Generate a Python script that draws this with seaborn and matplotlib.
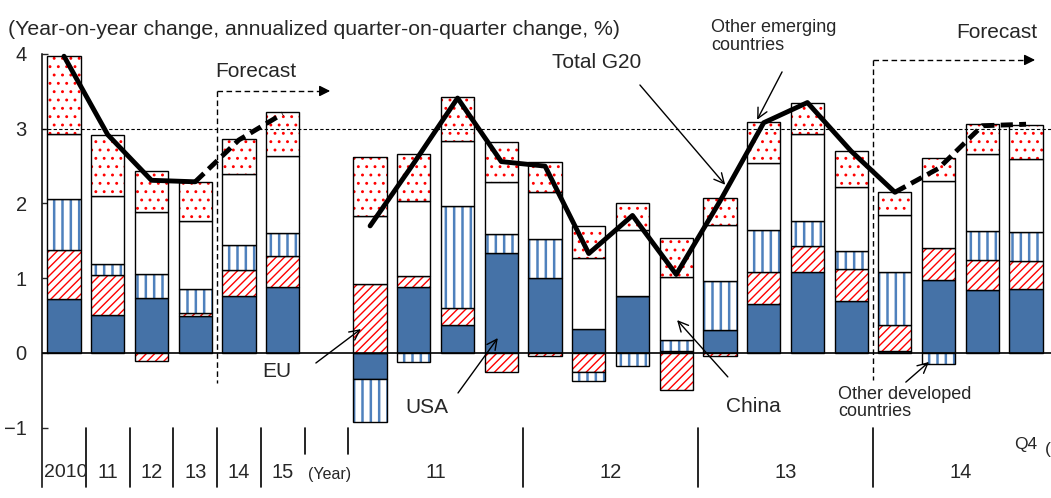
import numpy as np
import pandas as pd
import matplotlib
matplotlib.use("Agg")
import matplotlib.pyplot as plt
import seaborn as sns

# contributions to G20 growth, % points
# first 6 = calendar years 2010-2015, then quarters 2011Q1 .. 2014Q4
years = ["2010", "11", "12", "13", "14", "15"]
quarter_years = ["11", "12", "13", "14"]

usa = [0.72, 0.51, 0.74, 0.49, 0.76, 0.88,
       -0.35, 0.88, 0.38, 1.34,
       1.00, 0.32, 0.76, 0.03,
       0.31, 0.65, 1.08, 0.69,
       0.03, 0.98, 0.84, 0.85]
eu = [0.66, 0.53, -0.11, 0.04, 0.35, 0.42,
      0.92, 0.15, 0.22, -0.25,
      -0.04, -0.26, 0.00, -0.50,
      -0.04, 0.44, 0.35, 0.44,
      0.35, 0.42, 0.41, 0.38]
other_dev = [0.68, 0.15, 0.31, 0.32, 0.33, 0.30,
             -0.57, -0.12, 1.37, 0.25,
             0.53, -0.12, -0.18, 0.15,
             0.65, 0.55, 0.33, 0.24,
             0.70, -0.15, 0.38, 0.39]
china = [0.87, 0.91, 0.83, 0.92, 0.95, 1.03,
         0.91, 1.00, 0.87, 0.70,
         0.63, 0.95, 0.88, 0.84,
         0.75, 0.90, 1.17, 0.85,
         0.77, 0.90, 1.03, 0.98]
other_em = [1.04, 0.82, 0.55, 0.52, 0.47, 0.59,
            0.79, 0.63, 0.58, 0.53,
            0.39, 0.43, 0.37, 0.52,
            0.36, 0.55, 0.41, 0.48,
            0.31, 0.31, 0.40, 0.45]
total_g20 = [3.97, 2.92, 2.31, 2.29, 2.85, 3.20,
             1.70, 2.54, 3.41, 2.56,
             2.50, 1.33, 1.84, 1.05,
             2.03, 3.08, 3.35, 2.70,
             2.15, 2.47, 3.04, 3.06]

# bar slots: annual 0-5, gap, quarterly 7-22
pos = list(range(6)) + list(range(7, 23))
df = pd.DataFrame({"pos": pos, "USA": usa, "EU": eu, "ODev": other_dev,
                   "China": china, "OEm": other_em, "G20": total_g20})

sns.set_style("white")
plt.rcParams["font.family"] = ["Liberation Sans", "DejaVu Sans"]
plt.rcParams["hatch.linewidth"] = 1.0
narrow = ["Liberation Sans Narrow", "Liberation Sans", "DejaVu Sans"]

fig = plt.figure(figsize=(10.51, 4.98), dpi=100)
ax = fig.add_axes([42 / 1051, 0, 1 - 42 / 1051, 1])

RED = "#ff0000"
# name, face, hatch, hatch colour, hatch width
styles = [
    ("USA", "#4572a7", None, None, 1.0),
    ("EU", "white", "////", RED, 1.0),
    ("ODev", "white", "||", "#4f81bd", 1.8),
    ("China", "white", None, None, 1.0),
    ("OEm", "white", "..", RED, 0.9),
]

up = np.zeros(len(df))
down = np.zeros(len(df))
for name, fc, hatch, hc, hlw in styles:
    v = df[name].to_numpy()
    bottom = np.where(v >= 0, up, down)
    if hatch:
        with plt.rc_context({"hatch.linewidth": hlw}):
            sns.barplot(data=df, x="pos", y=name, native_scale=True, width=0.76,
                        bottom=bottom, color=fc, saturation=1, hatch=hatch,
                        edgecolor=hc, linewidth=0, errorbar=None, ax=ax, zorder=2)
    sns.barplot(data=df, x="pos", y=name, native_scale=True, width=0.76,
                bottom=bottom, color=fc, saturation=1,
                facecolor="none" if hatch else fc, edgecolor="black",
                linewidth=1.0, errorbar=None, ax=ax, zorder=2)
    up += np.where(v > 0, v, 0)
    down += np.where(v < 0, v, 0)

# Total G20 line, solid for actuals, dashed for forecast
annual = df.iloc[:6]
quarterly = df.iloc[6:]
segments = [(annual.iloc[:4], "-"), (annual.iloc[3:], (0, (2.5, 1.3))),
            (quarterly.iloc[:13], "-"), (quarterly.iloc[12:], (0, (2.5, 1.3)))]
for seg, ls in segments:
    sns.lineplot(data=seg, x="pos", y="G20", color="black", linewidth=3.5,
                 linestyle=ls, ax=ax, zorder=5, sort=False)

ax.axhline(0, color="black", lw=1.2, zorder=4)
ax.axhline(3, color="black", lw=0.8, ls=(0, (3, 2)), zorder=3)

ax.set_xlim(-0.503, 22.57)
ax.set_ylim(-1.94, 4.722)
ax.set_xlabel("")
ax.set_ylabel("")
ax.set_xticks([])
ax.set_yticks(range(-1, 5))
ax.set_yticklabels(["\u22121", "0", "1", "2", "3", "4"], family=narrow, fontsize=14.5)
ax.tick_params(axis="y", direction="in", length=4, width=1, pad=11, left=True)
for s in ["top", "right", "bottom"]:
    ax.spines[s].set_visible(False)
ax.spines["left"].set_bounds(-1.79, 4.0)
ax.spines["left"].set_linewidth(1.1)
ax.spines["left"].set_color("black")

# category separators and labels below the plot
sep_kw = dict(color="black", lw=1.2, clip_on=False)
for xs in [0.5, 1.5, 2.5, 3.5, 4.5, 10.5, 14.5, 18.5]:
    ax.plot([xs, xs], [-1.0, -1.79], **sep_kw)
for xs in [5.5, 6.5]:
    ax.plot([xs, xs], [-1.0, -1.35], **sep_kw)
for i, lab in enumerate(years):
    ax.text(i + (0.03 if i == 0 else 0), -1.6, lab, ha="center", va="center",
            family=narrow, fontsize=14 if i == 0 else 14.5)
ax.text(6.08, -1.63, "(Year)", ha="center", va="center", family=narrow, fontsize=11.5)
for c, lab in zip([8.5, 12.5, 16.5, 20.5], quarter_years):
    ax.text(c, -1.6, lab, ha="center", va="center", family=narrow, fontsize=14.5)
ax.text(21.98, -1.23, "Q4", ha="center", va="center", family=narrow, fontsize=12.5)
ax.text(22.5, -1.29, "(", ha="center", va="center", family=narrow, fontsize=12.5)

fig.text(8 / 1051, 1 - 29 / 498, "(Year-on-year change, annualized quarter-on-quarter change, %)",
         ha="left", va="center", fontsize=15.3)

# forecast markers
fc_kw = dict(color="black", lw=1.0, ls=(0, (4, 2.5)), clip_on=False)
ax.plot([3.5, 3.5], [3.505, -0.40], **fc_kw)
ax.plot([3.5, 6.0], [3.505, 3.505], **fc_kw)
ax.annotate("", xy=(6.15, 3.505), xytext=(5.9, 3.505),
            arrowprops=dict(arrowstyle="-|>", color="black", lw=1, mutation_scale=16))
ax.text(4.39, 3.76, "Forecast", ha="center", va="center", fontsize=15)
ax.plot([18.5, 18.5], [3.92, -0.36], **fc_kw)
ax.plot([18.5, 22.1], [3.92, 3.92], **fc_kw)
ax.annotate("", xy=(22.27, 3.92), xytext=(22.0, 3.92), annotation_clip=False,
            arrowprops=dict(arrowstyle="-|>", color="black", lw=1, mutation_scale=16))
ax.text(21.34, 4.29, "Forecast", ha="center", va="center", fontsize=15)

# series labels
arr = dict(arrowstyle="->", color="black", lw=1.0, mutation_scale=18, shrinkA=0, shrinkB=0)
ax.annotate("", xy=(15.12, 2.25), xytext=(13.17, 3.585), arrowprops=arr)
ax.text(12.19, 3.89, "Total G20", ha="center", va="center", fontsize=15)
ax.annotate("", xy=(15.85, 3.12), xytext=(16.42, 3.76), arrowprops=arr)
ax.text(14.8, 4.23, "Other emerging\ncountries", ha="left", va="center", fontsize=13,
        linespacing=1.05)
ax.annotate("", xy=(6.79, 0.32), xytext=(5.76, -0.134), arrowprops=arr)
ax.text(4.87, -0.25, "EU", ha="center", va="center", fontsize=15)
ax.annotate("", xy=(9.92, 0.20), xytext=(9.01, -0.535), arrowprops=arr)
ax.text(8.30, -0.736, "USA", ha="center", va="center", fontsize=15)
ax.annotate("", xy=(14.02, 0.44), xytext=(15.18, -0.32), arrowprops=arr)
ax.text(15.76, -0.71, "China", ha="center", va="center", fontsize=15)
ax.annotate("", xy=(19.78, -0.12), xytext=(19.25, -0.39), arrowprops=arr)
ax.text(17.70, -0.67, "Other developed\ncountries", ha="left", va="center", fontsize=13,
        linespacing=1.05)

fig.savefig("out.png", dpi=100)
